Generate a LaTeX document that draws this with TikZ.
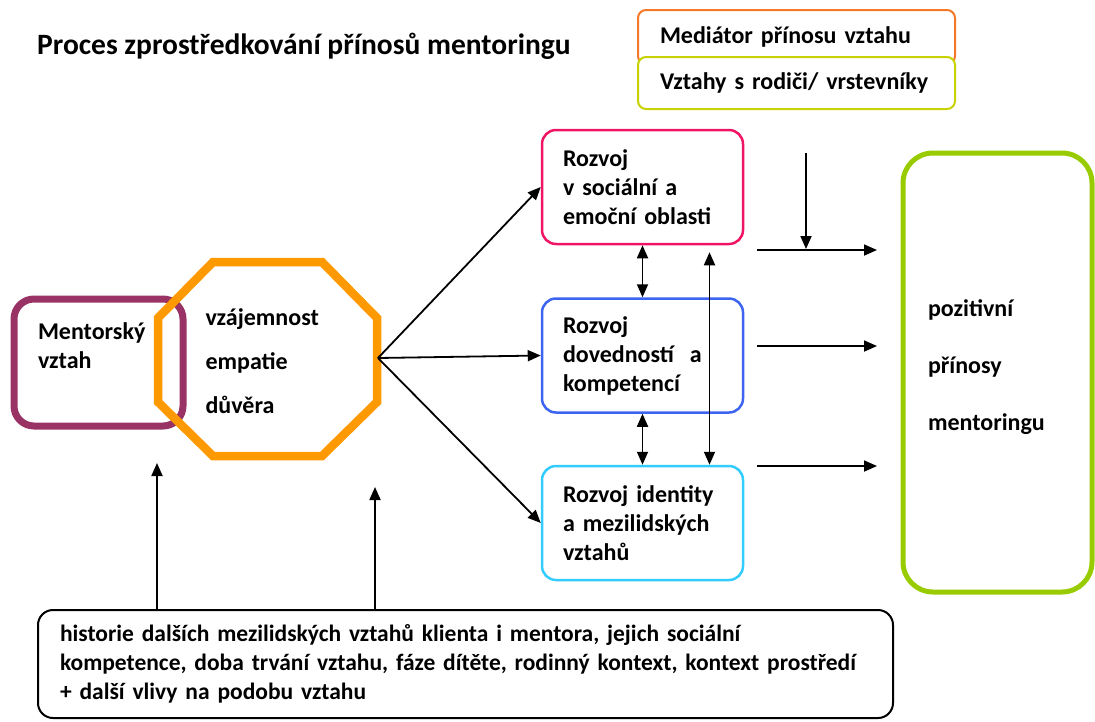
\documentclass[tikz,border=0pt]{standalone}
\usepackage{fontspec}
\setmainfont{Carlito}
\usetikzlibrary{arrows.meta}

\definecolor{mentorpurple}{RGB}{153,51,102}
\definecolor{octorange}{RGB}{255,153,0}
\definecolor{socpink}{RGB}{240,20,100}
\definecolor{skillblue}{RGB}{60,100,240}
\definecolor{identcyan}{RGB}{51,204,255}
\definecolor{outgreen}{RGB}{153,204,0}
\definecolor{legorange}{RGB}{245,120,40}
\definecolor{legyellow}{RGB}{200,210,0}

\begin{document}
\begin{tikzpicture}[x=1pt,y=-1pt,
    font=\fontsize{24}{29}\selectfont\bfseries,
    arr/.style={-{Triangle[length=13pt,width=11pt]}, line width=1.8pt},
    dbl/.style={{Triangle[length=13pt,width=11pt]}-{Triangle[length=13pt,width=11pt]}, line width=1.8pt},
    devbox/.style={draw=#1, line width=2.5pt, rounded corners=14pt, minimum width=201pt,
        minimum height=114pt, text width=159pt, inner xsep=21pt, align=left},
    legbox/.style={draw=#1, line width=2pt, rounded corners=8pt, minimum width=317pt,
        text width=273pt, inner xsep=22pt, align=left},
]
\useasboundingbox (0,0) rectangle (1095,721);

\node[anchor=west, inner sep=0pt, font=\fontsize{29.5}{34}\selectfont\bfseries] (title) at (37,46)
    {Proces zprostředkování přínosů mentoringu};

% legend
\node[legbox=legorange, minimum height=54pt, fill=white] (med) at (796.5,37) {Mediátor přínosu vztahu};
\node[legbox=legyellow, minimum height=52pt, fill=white] (peer) at (796.5,83) {Vztahy s rodiči/ vrstevníky};

% mentor box and octagon
\node[draw=mentorpurple, line width=7pt, rounded corners=20pt, minimum width=169pt,
    minimum height=127pt, text width=121pt, inner xsep=24pt, align=left] (ment) at (98.5,362.5)
    {Mentorský\\vztah\\[4pt]\mbox{}};
\draw[octorange, line width=8.5pt] (213,262) -- (322,262) -- (377,318) -- (377,402)
    -- (322,456) -- (213,456) -- (158,402) -- (158,318) -- cycle;
\node[anchor=west, align=left] (oct) at (202,361) {vzájemnost\\[15pt]empatie\\[15pt]důvěra};
\coordinate (octR) at (378,358);

% three areas of development
\node[devbox=socpink] (r1) at (642.5,187) {Rozvoj\\v sociální a\\emoční oblasti};
\node[devbox=skillblue] (r2) at (642.5,355.5) {Rozvoj\\dovedností\ \ a\\kompetencí};
\node[devbox=identcyan] (r3) at (642.5,523) {Rozvoj identity\\a mezilidských\\vztahů};

\node[draw=outgreen, line width=5pt, rounded corners=30pt, minimum width=189pt,
    minimum height=439pt, text width=139pt, inner xsep=25pt, align=left] (out) at (997.5,372.5)
    {pozitivní\\[28pt]přínosy\\[28pt]mentoringu\\[-14pt]\mbox{}};

\node[draw, line width=2pt, rounded corners=15pt, minimum width=855pt, minimum height=108pt,
    text width=811pt, inner xsep=22pt, align=left, font=\fontsize{23.5}{29}\selectfont\bfseries] (ctx) at (465.5,664)
    {historie dalších mezilidských vztahů klienta i mentora, jejich sociální\\
     kompetence, doba trvání vztahu, fáze dítěte, rodinný kontext, kontext prostředí\\
     + další vlivy na podobu vztahu};

% arrows
\foreach \r in {r1,r2,r3} {
    \draw[arr] (octR) -- (\r.west);
}
\draw[dbl] (r1) -- (r2);
\draw[dbl] (r2) -- (r3);
\draw[dbl] ([xshift=67pt,yshift=-7pt]r1.south) -- ([xshift=67pt]r3.north);

\foreach \y [count=\i] in {250,346,466} {
    \coordinate (s\i) at (757,\y);
    \draw[arr] (s\i) -- ++(120,0);
}
\coordinate (medtop) at (806,153);
\draw[arr] (medtop) -- ([yshift=1pt]medtop |- s1);

\coordinate (u1) at (157,463);
\coordinate (u2) at (375,487);
\foreach \u in {u1,u2} {
    \draw[arr] (\u |- ctx.north) -- (\u);
}

\end{tikzpicture}
\end{document}
